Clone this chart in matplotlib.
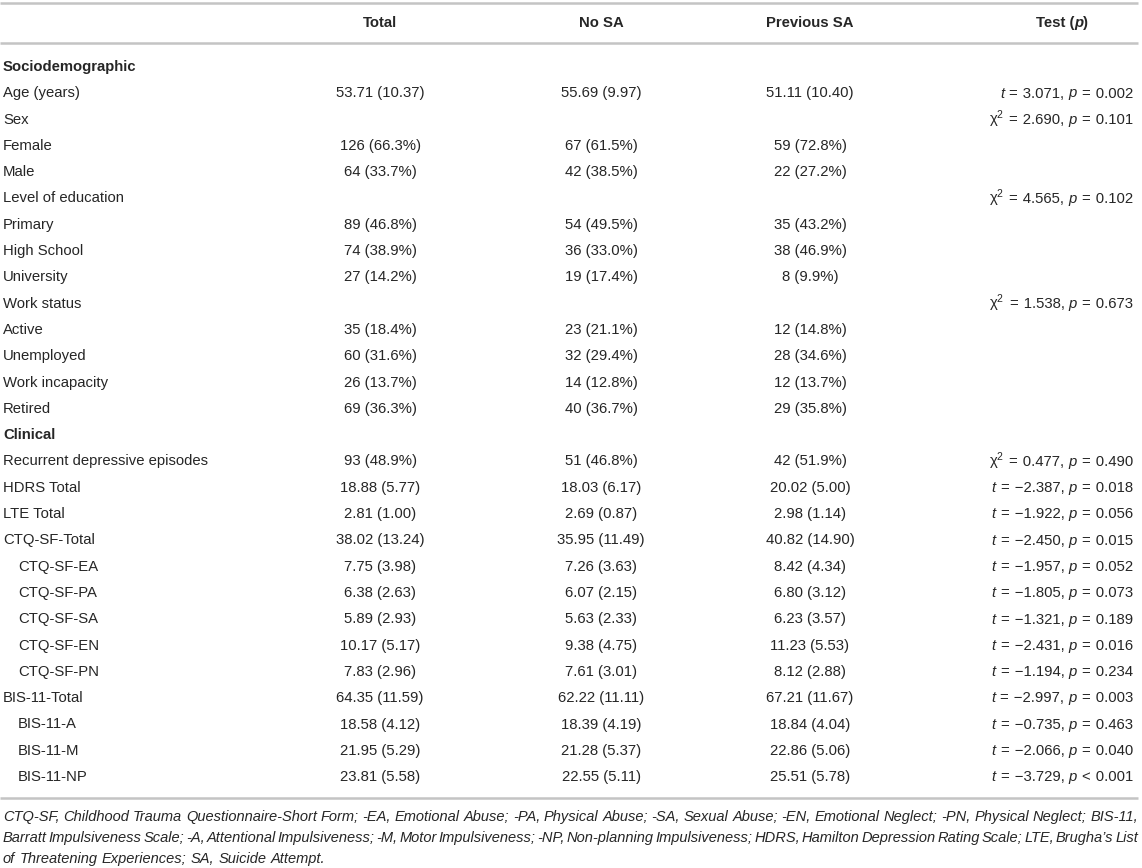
import matplotlib
matplotlib.use("Agg")
import matplotlib.pyplot as plt

plt.rcParams['font.family'] = ['Liberation Sans', 'DejaVu Sans']
plt.rcParams['mathtext.fontset'] = 'custom'
plt.rcParams['mathtext.rm'] = 'Liberation Sans'
plt.rcParams['mathtext.it'] = 'Liberation Sans:italic'

columns = ["Total", "No SA", "Previous SA"]

# one entry per table row
labels = ["Sociodemographic", "Age (years)", "Sex", "Female", "Male",
          "Level of education", "Primary", "High School", "University",
          "Work status", "Active", "Unemployed", "Work incapacity", "Retired",
          "Clinical", "Recurrent depressive episodes", "HDRS Total", "LTE Total",
          "CTQ-SF-Total", "CTQ-SF-EA", "CTQ-SF-PA", "CTQ-SF-SA", "CTQ-SF-EN",
          "CTQ-SF-PN", "BIS-11-Total", "BIS-11-A", "BIS-11-M", "BIS-11-NP"]
section = [1, 0, 0, 0, 0, 0, 0, 0, 0, 0, 0, 0, 0, 0,
           1, 0, 0, 0, 0, 0, 0, 0, 0, 0, 0, 0, 0, 0]
indent = [0]*19 + [1, 1, 1, 1, 1, 0, 1, 1, 1]

total = ["", "53.71 (10.37)", "", "126 (66.3%)", "64 (33.7%)", "",
         "89 (46.8%)", "74 (38.9%)", "27 (14.2%)", "", "35 (18.4%)",
         "60 (31.6%)", "26 (13.7%)", "69 (36.3%)", "", "93 (48.9%)",
         "18.88 (5.77)", "2.81 (1.00)", "38.02 (13.24)", "7.75 (3.98)",
         "6.38 (2.63)", "5.89 (2.93)", "10.17 (5.17)", "7.83 (2.96)",
         "64.35 (11.59)", "18.58 (4.12)", "21.95 (5.29)", "23.81 (5.58)"]
no_sa = ["", "55.69 (9.97)", "", "67 (61.5%)", "42 (38.5%)", "",
         "54 (49.5%)", "36 (33.0%)", "19 (17.4%)", "", "23 (21.1%)",
         "32 (29.4%)", "14 (12.8%)", "40 (36.7%)", "", "51 (46.8%)",
         "18.03 (6.17)", "2.69 (0.87)", "35.95 (11.49)", "7.26 (3.63)",
         "6.07 (2.15)", "5.63 (2.33)", "9.38 (4.75)", "7.61 (3.01)",
         "62.22 (11.11)", "18.39 (4.19)", "21.28 (5.37)", "22.55 (5.11)"]
prev_sa = ["", "51.11 (10.40)", "", "59 (72.8%)", "22 (27.2%)", "",
           "35 (43.2%)", "38 (46.9%)", "8 (9.9%)", "", "12 (14.8%)",
           "28 (34.6%)", "12 (13.7%)", "29 (35.8%)", "", "42 (51.9%)",
           "20.02 (5.00)", "2.98 (1.14)", "40.82 (14.90)", "8.42 (4.34)",
           "6.80 (3.12)", "6.23 (3.57)", "11.23 (5.53)", "8.12 (2.88)",
           "67.21 (11.67)", "18.84 (4.04)", "22.86 (5.06)", "25.51 (5.78)"]
# (statistic, value, p relation, p value)
tests = [None, ("t", "3.071", "=", "0.002"), ("chi", "2.690", "=", "0.101"),
         None, None, ("chi", "4.565", "=", "0.102"), None, None, None,
         ("chi", "1.538", "=", "0.673"), None, None, None, None, None,
         ("chi", "0.477", "=", "0.490"), ("t", "-2.387", "=", "0.018"),
         ("t", "-1.922", "=", "0.056"), ("t", "-2.450", "=", "0.015"),
         ("t", "-1.957", "=", "0.052"), ("t", "-1.805", "=", "0.073"),
         ("t", "-1.321", "=", "0.189"), ("t", "-2.431", "=", "0.016"),
         ("t", "-1.194", "=", "0.234"), ("t", "-2.997", "=", "0.003"),
         ("t", "-0.735", "=", "0.463"), ("t", "-2.066", "=", "0.040"),
         ("t", "-3.729", "<", "0.001")]

footnote = [
    "CTQ-SF, Childhood Trauma Questionnaire-Short Form; -EA, Emotional Abuse; -PA, Physical Abuse; -SA, Sexual Abuse; -EN, Emotional Neglect; -PN, Physical Neglect; BIS-11,",
    "Barratt Impulsiveness Scale; -A, Attentional Impulsiveness; -M, Motor Impulsiveness; -NP, Non-planning Impulsiveness; HDRS, Hamilton Depression Rating Scale; LTE, Brugha\u2019s List",
    "of Threatening Experiences; SA, Suicide Attempt.",
]

W, H = 1142, 868
fig = plt.figure(figsize=(W / 100, H / 100), dpi=100)
ax = fig.add_axes([0, 0, 1, 1])
ax.set_xlim(0, W)
ax.set_ylim(H, 0)
ax.axis('off')
fig.canvas.draw()
r = fig.canvas.get_renderer()

txt = '#262626'
line_c = '#c4c4c4'
fs = 10.7

col_x = [380, 601, 810]
test_hdr_x = 1062
right_x = 1133
left_x = 3
row0 = 67
pitch = 26.3


def pieces(parts, x, y, align):
    # parts: list of (string, style, weight); drawn as one run of text
    objs = [ax.text(0, y, s, ha='left', va='baseline', fontsize=fs, style=st,
                    fontweight=wt, color=txt) for s, st, wt in parts]
    ws = [o.get_window_extent(r).width for o in objs]
    tot = sum(ws)
    start = x - tot if align == 'right' else x - tot / 2
    for o, w in zip(objs, ws):
        o.set_x(start)
        start += w


def base(y):
    # baseline that puts the digits level with va='center' text on y
    return y + 4.2


for y in (3, 43, 798):
    ax.plot([0, 1138], [y, y], color=line_c, lw=1.8, solid_capstyle='butt')

for i, c in enumerate(columns):
    ax.text(col_x[i], 23, c, ha='center', va='center', fontsize=fs,
            fontweight='bold', color=txt)
pieces([("Test (", 'normal', 'bold'), ("p", 'italic', 'bold'),
        (")", 'normal', 'bold')], test_hdr_x, base(23), 'center')

sp = '\u2004'  # a bit wider than a normal space, like math spacing
for i, lab in enumerate(labels):
    y = row0 + i * pitch
    ax.text(left_x + 15 * indent[i], y, lab, ha='left', va='center',
            fontsize=fs, color=txt,
            fontweight='bold' if section[i] else 'normal')
    for j, col in enumerate((total, no_sa, prev_sa)):
        if col[i]:
            ax.text(col_x[j], y, col[i], ha='center', va='center',
                    fontsize=fs, color=txt)
    if tests[i]:
        stat, val, rel, pv = tests[i]
        val = val.replace('-', '\u2212')
        if stat == 't':
            first = [("t", 'italic', 'normal')]
        else:
            first = [(r"$\mathrm{\chi}^{2}$", 'normal', 'normal')]
        parts = first + [(sp + "=" + sp + val + ", ", 'normal', 'normal'),
                         ("p", 'italic', 'normal'),
                         (sp + rel + sp + pv, 'normal', 'normal')]
        pieces(parts, right_x, base(y), 'right')

# justified footnote
fy = [817, 838, 859]
x0, x1 = 3, 1138
ffs = 10.5
for k, line in enumerate(footnote):
    words = line.split(' ')
    objs = [ax.text(0, fy[k], w, ha='left', va='center', fontsize=ffs,
                    style='italic', color=txt) for w in words]
    widths = [o.get_window_extent(r).width for o in objs]
    if k < len(footnote) - 1:
        gap = (x1 - x0 - sum(widths)) / (len(words) - 1)
    else:
        a1 = ax.text(0, 0, 'a a', fontsize=ffs, style='italic')
        a2 = ax.text(0, 0, 'aa', fontsize=ffs, style='italic')
        gap = a1.get_window_extent(r).width - a2.get_window_extent(r).width
        a1.remove()
        a2.remove()
    x = x0
    for o, w in zip(objs, widths):
        o.set_x(x)
        x += w + gap

fig.savefig('out.png', dpi=100)
